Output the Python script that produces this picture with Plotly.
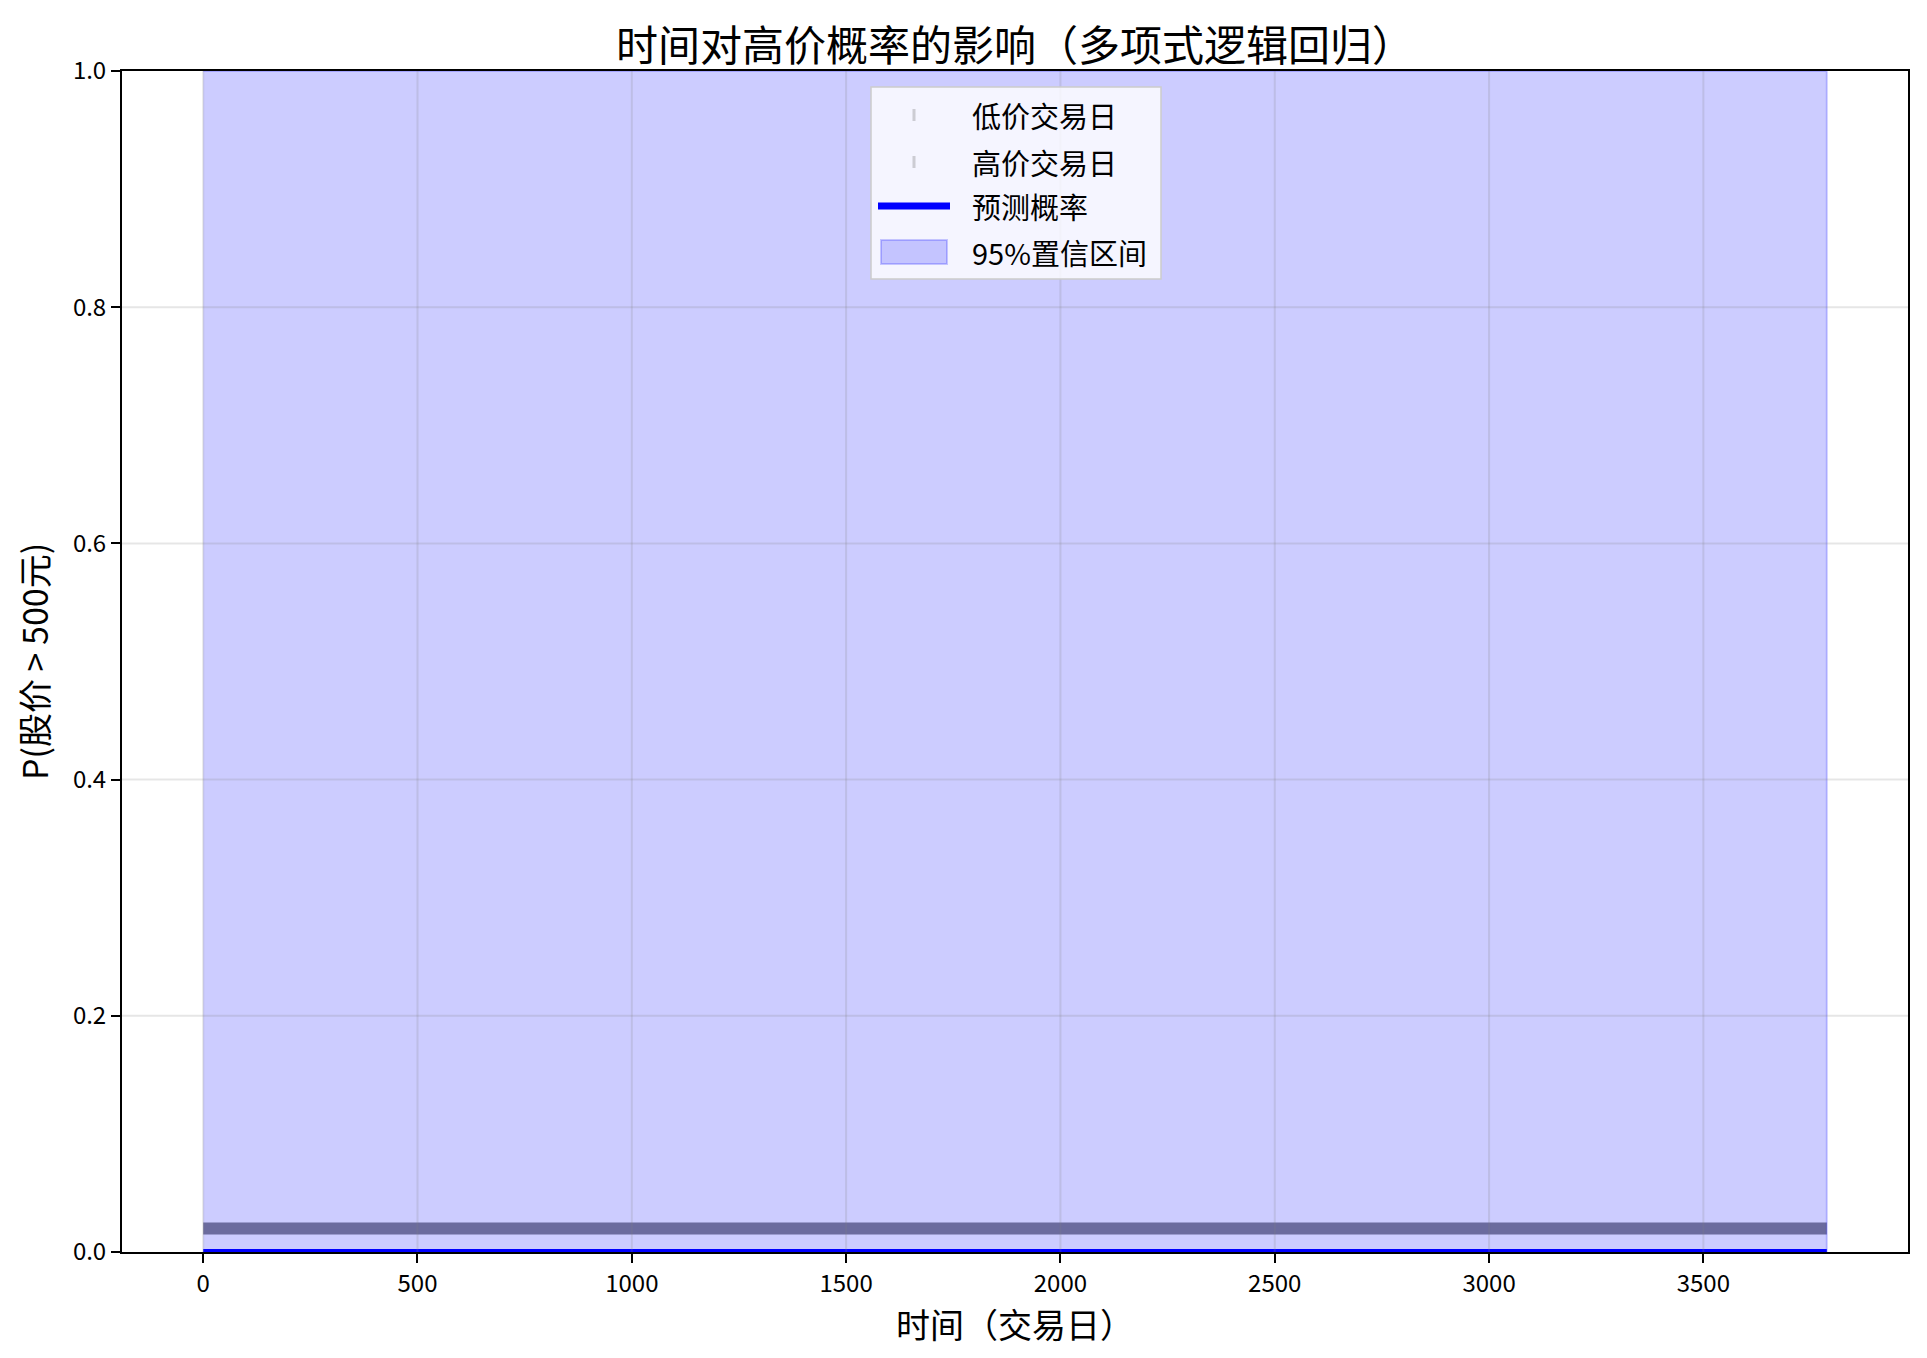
import plotly.graph_objects as go

# ---- data ----
time_grid = [0, 500, 1000, 1500, 2000, 2500, 3000, 3500, 3788]
pred_prob = [0.0004, 0.0004, 0.0004, 0.0004, 0.0004, 0.0004, 0.0004, 0.0004, 0.0004]
ci_lower = [0.0, 0.0, 0.0, 0.0, 0.0, 0.0, 0.0, 0.0, 0.0]
ci_upper = [1.0, 1.0, 1.0, 1.0, 1.0, 1.0, 1.0, 1.0, 1.0]
rug_days = [0, 3788]          # trading-day span covered by the rug marks
rug_level = [0.02, 0.02]
x_ticks = [0, 500, 1000, 1500, 2000, 2500, 3000, 3500]
y_ticks = [0.0, 0.2, 0.4, 0.6, 0.8, 1.0]
legend_labels = ["低价交易日", "高价交易日", "预测概率", "95%置信区间"]

FONT = "Noto Sans CJK SC, SimHei, sans-serif"

# plot area in screen pixels (page has 8px body offset)
PL, PT, PR, PB = 122, 71, 1908, 1252
PW, PH = PR - PL, PB - PT


def px(xpix):
    return (xpix - PL) / PW


def py(ypix):
    return (PB - ypix) / PH


fig = go.Figure()

# rug band (dense tick marks of trading days)
fig.add_trace(go.Scatter(
    x=rug_days, y=rug_level, mode="lines",
    line=dict(color="rgb(134,134,134)", width=12),
    showlegend=False, hoverinfo="skip"))

# confidence band
fig.add_trace(go.Scatter(
    x=time_grid + time_grid[::-1],
    y=ci_upper + ci_lower[::-1],
    fill="toself", fillcolor="rgba(0,0,255,0.2)",
    line=dict(color="rgba(0,0,255,0.2)", width=2),
    mode="lines", name=legend_labels[3], showlegend=False, hoverinfo="skip"))

# predicted probability
fig.add_trace(go.Scatter(
    x=time_grid, y=pred_prob, mode="lines", name=legend_labels[2],
    line=dict(color="rgb(0,0,255)", width=5), showlegend=False))

shapes = []
# grid lines drawn above the band (as in the original)
for xv in x_ticks:
    shapes.append(dict(type="line", xref="x", yref="paper", x0=xv, x1=xv, y0=0, y1=1,
                       line=dict(color="rgba(128,128,128,0.2)", width=2), layer="above"))
for yv in y_ticks[1:-1]:
    shapes.append(dict(type="line", xref="paper", yref="y", x0=0, x1=1, y0=yv, y1=yv,
                       line=dict(color="rgba(128,128,128,0.2)", width=2), layer="above"))

# manual legend box
shapes.append(dict(type="rect", xref="paper", yref="paper",
                   x0=px(871), x1=px(1161), y0=py(279), y1=py(87),
                   fillcolor="rgba(255,255,255,0.8)",
                   line=dict(color="rgb(204,204,204)", width=1.5), layer="above"))
row_y = [115, 162, 206, 252]
# rug tick symbols
for ry in row_y[:2]:
    shapes.append(dict(type="line", xref="paper", yref="paper",
                       x0=px(914), x1=px(914), y0=py(ry - 6), y1=py(ry + 6),
                       line=dict(color="rgba(128,128,128,0.35)", width=3), layer="above"))
# line symbol
shapes.append(dict(type="line", xref="paper", yref="paper",
                   x0=px(878), x1=px(950), y0=py(row_y[2]), y1=py(row_y[2]),
                   line=dict(color="rgb(0,0,255)", width=7), layer="above"))
# fill symbol
shapes.append(dict(type="rect", xref="paper", yref="paper",
                   x0=px(881), x1=px(947), y0=py(row_y[3] + 12), y1=py(row_y[3] - 12),
                   fillcolor="rgba(0,0,255,0.2)",
                   line=dict(color="rgba(0,0,255,0.2)", width=2), layer="above"))

annotations = []
for lab, ry in zip(legend_labels, row_y):
    annotations.append(dict(text=lab, xref="paper", yref="paper",
                            x=px(970), y=py(ry), xanchor="left", yanchor="middle",
                            showarrow=False, font=dict(size=29, family=FONT, color="black")))

fig.update_layout(
    width=1919, height=1350,
    paper_bgcolor="white", plot_bgcolor="white",
    margin=dict(l=114, r=19, t=63, b=106),
    font=dict(family=FONT, color="black"),
    title=dict(text="时间对高价概率的影响（多项式逻辑回归）",
               font=dict(size=42, family=FONT, color="black"),
               x=0.5, xref="paper", xanchor="center",
               y=0.972, yref="container", yanchor="middle"),
    showlegend=False,
    shapes=shapes,
    annotations=annotations,
)

fig.update_xaxes(
    range=[-189.4, 3977.4], tickvals=x_ticks, ticktext=[str(v) for v in x_ticks],
    showline=True, linecolor="black", linewidth=2, mirror=True,
    ticks="outside", ticklen=9, tickwidth=2, tickcolor="black",
    tickfont=dict(size=24, family=FONT),
    showgrid=False, zeroline=False, automargin=False,
    title=dict(text="时间（交易日）", font=dict(size=34, family=FONT), standoff=8),
)
fig.update_yaxes(
    range=[0, 1], tickvals=y_ticks, ticktext=["%.1f" % v for v in y_ticks],
    showline=True, linecolor="black", linewidth=2, mirror=True,
    ticks="outside", ticklen=9, tickwidth=2, tickcolor="black",
    tickfont=dict(size=24, family=FONT),
    showgrid=False, zeroline=False, automargin=False,
    title=dict(text="P(股价 > 500元)", font=dict(size=34, family=FONT), standoff=14),
)

fig.write_html("out.html")
